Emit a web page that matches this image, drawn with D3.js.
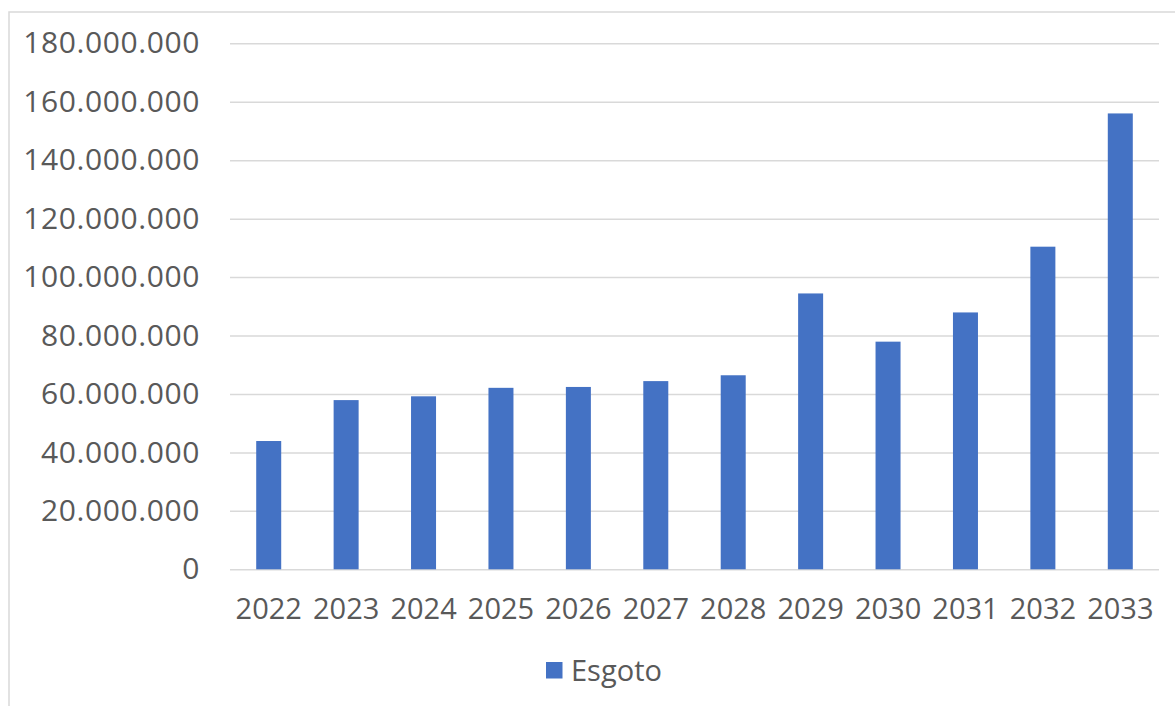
<!DOCTYPE html>
<html>
<head>
<meta charset="utf-8">
<script src="https://cdn.jsdelivr.net/npm/d3@7"></script>
<style>
  html, body { margin: 0; padding: 0; background: #fff; }
  svg { display: block; }
  text { font-family: "Open Sans", "Noto Sans", sans-serif; fill: #595959; }
</style>
</head>
<body>
<svg id="chart" width="1175" height="706"></svg>
<script>
// Annual sewage investment (Esgoto), 2022–2033
const years = ["2022","2023","2024","2025","2026","2027","2028","2029","2030","2031","2032","2033"];
const esgoto = [43900000, 57900000, 59200000, 62100000, 62400000, 64400000, 66400000, 94400000, 77900000, 87900000, 110400000, 156000000];
const yTicks = [0, 20000000, 40000000, 60000000, 80000000, 100000000, 120000000, 140000000, 160000000, 180000000];
const seriesName = "Esgoto";

const W = 1175, H = 706;
const plot = { left: 230, right: 1159, top: 43.3, bottom: 569.3 };
const barColor = "#4472C4";
const gridColor = "#d9d9d9";

const ptBR = d3.formatLocale({ decimal: ",", thousands: ".", grouping: [3], currency: ["R$", ""] });
const fmt = ptBR.format(",d");

const svg = d3.select("#chart");

// chart frame (continues past the right and bottom edges)
svg.append("rect")
  .attr("x", 9).attr("y", 12)
  .attr("width", W + 20).attr("height", H + 20)
  .attr("fill", "#fff")
  .attr("stroke", gridColor).attr("stroke-width", 1.5);

const x = d3.scaleBand()
  .domain(years)
  .range([plot.left, plot.right])
  .paddingInner(0.677)
  .paddingOuter(0.677 / 2);

const y = d3.scaleLinear()
  .domain([0, 180000000])
  .range([plot.bottom, plot.top]);

// horizontal gridlines + value labels
const yAxis = d3.axisLeft(y)
  .tickValues(yTicks)
  .tickFormat(fmt)
  .tickSize(-(plot.right - plot.left))
  .tickPadding(30);

const gy = svg.append("g")
  .attr("transform", `translate(${plot.left},0)`)
  .call(yAxis);
gy.select(".domain").remove();
gy.selectAll(".tick line").attr("stroke", gridColor).attr("stroke-width", 1.5);
gy.selectAll(".tick text")
  .attr("font-size", 30)
  .attr("letter-spacing", 0.6)
  .attr("fill", "#595959")
  .attr("font-family", "'Open Sans', sans-serif");

// bars
svg.append("g")
  .selectAll("rect")
  .data(years.map((yr, i) => ({ yr, v: esgoto[i] })))
  .join("rect")
  .attr("x", d => x(d.yr))
  .attr("width", x.bandwidth())
  .attr("y", d => y(d.v))
  .attr("height", d => y(0) - y(d.v))
  .attr("fill", barColor);

// category labels
const xAxis = d3.axisBottom(x).tickSize(0).tickPadding(0);
const gx = svg.append("g")
  .attr("transform", `translate(0,${plot.bottom})`)
  .call(xAxis);
gx.select(".domain").remove();
gx.selectAll(".tick text")
  .attr("dy", null)
  .attr("y", 50)
  .attr("font-size", 29)
  .attr("fill", "#595959")
  .attr("font-family", "'Open Sans', sans-serif");

// legend
const legend = svg.append("g").attr("transform", "translate(546,662)");
legend.append("rect")
  .attr("width", 16.5).attr("height", 16.5)
  .attr("fill", barColor);
legend.append("text")
  .attr("x", 25).attr("y", 18.5)
  .attr("font-size", 29)
  .text(seriesName);
</script>
</body>
</html>
